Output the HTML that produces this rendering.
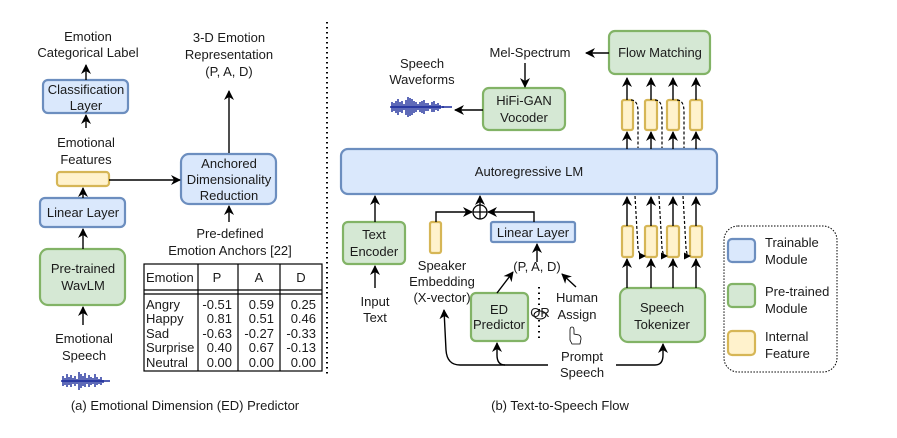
<!DOCTYPE html>
<html><head><meta charset="utf-8"><style>body{margin:0;background:#fff}svg{display:block}text{font-family:"Liberation Sans",sans-serif;font-size:13px;fill:#1a1a1a}</style></head><body>
<svg width="897" height="438" viewBox="0 0 897 438" xmlns="http://www.w3.org/2000/svg">
<defs><marker id="a" markerWidth="10" markerHeight="10" refX="9" refY="5" orient="auto" markerUnits="userSpaceOnUse"><path d="M0,0 L10,5 L0,10 L3,5 z" fill="#000"/></marker></defs>
<g stroke-width="2.2">
<rect x="43" y="80" width="85" height="33" rx="5" fill="#dae8fc" stroke="#6c8ebf"/>
<rect x="40" y="198" width="85" height="29" rx="5" fill="#dae8fc" stroke="#6c8ebf"/>
<rect x="40" y="249" width="85" height="56" rx="8" fill="#d5e8d4" stroke="#82b366"/>
<rect x="57" y="172" width="52" height="14" rx="3" fill="#fff2cc" stroke="#d6b656"/>
<rect x="181" y="154" width="95" height="50" rx="8" fill="#dae8fc" stroke="#6c8ebf"/>
</g>
<g stroke="#000" stroke-width="1.4" fill="none" marker-end="url(#a)">
<line x1="86" y1="80" x2="86" y2="65"/>
<line x1="86" y1="128" x2="86" y2="115"/>
<line x1="83" y1="198" x2="83" y2="188"/>
<line x1="83" y1="249" x2="83" y2="229"/>
<line x1="83" y1="325" x2="83" y2="307"/>
<line x1="109" y1="180" x2="180" y2="180"/>
<line x1="229" y1="153" x2="229" y2="91"/>
<line x1="229" y1="222" x2="229" y2="206"/>
</g>
<g text-anchor="middle">
<text x="88" y="41">Emotion</text><text x="88" y="57">Categorical Label</text>
<text x="86" y="94">Classification</text><text x="86" y="110">Layer</text>
<text x="86" y="147">Emotional</text><text x="86" y="164">Features</text>
<text x="83" y="217">Linear Layer</text>
<text x="83" y="273">Pre-trained</text><text x="83" y="290">WavLM</text>
<text x="84" y="343">Emotional</text><text x="84" y="360">Speech</text>
<text x="229" y="168">Anchored</text><text x="229" y="184">Dimensionality</text><text x="229" y="200">Reduction</text>
<text x="229" y="42">3-D Emotion</text><text x="229" y="59">Representation</text><text x="229" y="76">(P, A, D)</text>
<text x="230" y="238">Pre-defined</text><text x="230" y="255">Emotion Anchors [22]</text>
</g>
<g stroke="#1a2a9a" stroke-width="1.4">
<path d="M61,381 L110,381 M63,376v10 M65,378v7 M67,374v13 M69,377v8 M71,375v12 M73,378v6 M75,376v10 M77,379v5 M79,372v18 M81,374v14 M83,376v10 M85,373v14 M87,378v6 M89,375v12 M91,377v8 M93,378v6 M95,374v13 M97,377v8 M99,379v5 M101,377v8 M103,380v3"/>
</g>
<g stroke="#000" stroke-width="1.2" fill="none">
<rect x="144" y="264" width="178" height="107"/>
<line x1="198" y1="264" x2="198" y2="371"/><line x1="238" y1="264" x2="238" y2="371"/><line x1="280" y1="264" x2="280" y2="371"/>
<line x1="144" y1="290" x2="322" y2="290"/><line x1="144" y1="294" x2="322" y2="294"/>
</g>
<g font-size="12.5">
<text x="146" y="282">Emotion</text><text x="217" y="282" text-anchor="middle">P</text><text x="259" y="282" text-anchor="middle">A</text><text x="301" y="282" text-anchor="middle">D</text>
<text x="146" y="309">Angry</text><text x="146" y="323">Happy</text><text x="146" y="338">Sad</text><text x="146" y="352">Surprise</text><text x="146" y="367">Neutral</text>
</g>
<g text-anchor="end" font-size="12.5">
<text x="232" y="309">-0.51</text><text x="232" y="323">0.81</text><text x="232" y="338">-0.63</text><text x="232" y="352">0.40</text><text x="232" y="367">0.00</text>
<text x="274" y="309">0.59</text><text x="274" y="323">0.51</text><text x="274" y="338">-0.27</text><text x="274" y="352">0.67</text><text x="274" y="367">0.00</text>
<text x="316" y="309">0.25</text><text x="316" y="323">0.46</text><text x="316" y="338">-0.33</text><text x="316" y="352">-0.13</text><text x="316" y="367">0.00</text>
</g>
<text x="185" y="410" text-anchor="middle" font-size="14.5">(a) Emotional Dimension (ED) Predictor</text>
<line x1="327" y1="22" x2="327" y2="375" stroke="#000" stroke-width="2" stroke-dasharray="1.5,3.5"/>
<g stroke-width="2.2">
<rect x="609" y="31" width="101" height="43" rx="6" fill="#d5e8d4" stroke="#82b366"/>
<rect x="483" y="88" width="82" height="42" rx="6" fill="#d5e8d4" stroke="#82b366"/>
<rect x="341" y="149" width="376" height="45" rx="7" fill="#dae8fc" stroke="#6c8ebf"/>
<rect x="343" y="222" width="62" height="42" rx="5" fill="#d5e8d4" stroke="#82b366"/>
<rect x="491" y="222" width="84" height="20" rx="2" fill="#dae8fc" stroke="#6c8ebf"/>
<rect x="471" y="293" width="57" height="48" rx="5" fill="#d5e8d4" stroke="#82b366"/>
<rect x="620" y="288" width="85" height="54" rx="8" fill="#d5e8d4" stroke="#82b366"/>
<rect x="430" y="222" width="11" height="31" rx="2" fill="#fff2cc" stroke="#d6b656"/>
<g fill="#fff2cc" stroke="#d6b656">
<rect x="622" y="100" width="11" height="30" rx="2"/><rect x="645" y="100" width="12" height="30" rx="2"/><rect x="667" y="100" width="12" height="30" rx="2"/><rect x="690" y="100" width="12" height="30" rx="2"/>
<rect x="622" y="226" width="11" height="31" rx="2"/><rect x="645" y="226" width="12" height="31" rx="2"/><rect x="667" y="226" width="12" height="31" rx="2"/><rect x="690" y="226" width="12" height="31" rx="2"/>
</g>
</g>
<g stroke="#000" stroke-width="1.4" fill="none" marker-end="url(#a)">
<line x1="609" y1="53" x2="586" y2="53"/>
<line x1="525" y1="63" x2="525" y2="87"/>
<line x1="483" y1="110" x2="455" y2="110"/>
<line x1="627" y1="100" x2="627" y2="78"/><line x1="651" y1="100" x2="651" y2="78"/><line x1="673" y1="100" x2="673" y2="78"/><line x1="696" y1="100" x2="696" y2="78"/>
<line x1="627" y1="149" x2="627" y2="132"/><line x1="651" y1="149" x2="651" y2="132"/><line x1="673" y1="149" x2="673" y2="132"/><line x1="696" y1="149" x2="696" y2="132"/>
<line x1="627" y1="226" x2="627" y2="197"/><line x1="651" y1="226" x2="651" y2="197"/><line x1="673" y1="226" x2="673" y2="197"/><line x1="696" y1="226" x2="696" y2="197"/>
<line x1="627" y1="288" x2="627" y2="259"/><line x1="651" y1="288" x2="651" y2="259"/><line x1="673" y1="288" x2="673" y2="259"/><line x1="696" y1="288" x2="696" y2="259"/>
<line x1="375" y1="222" x2="375" y2="196"/>
<line x1="375" y1="288" x2="375" y2="266"/>
<path d="M436,222 V212 H472"/>
<path d="M534,222 V212 H488"/>
<line x1="480" y1="205" x2="480" y2="196"/>
<line x1="537" y1="262" x2="537" y2="244"/>
<line x1="497" y1="293" x2="513" y2="272"/>
<line x1="576" y1="287" x2="562" y2="274"/>
<path d="M548,365 H460 Q447,365 446,350 L444,310"/>
<path d="M505,365 Q497,365 497,355 L497,343"/>
<path d="M616,365 H655 Q663,365 663,355 L663,344"/>
</g>
<g stroke="#000" stroke-width="1.2" fill="none" stroke-dasharray="3,2">
<path d="M631,100 Q638,100 638,112 L638,148"/><path d="M655,100 Q662,100 662,112 L662,148"/><path d="M677,100 Q684,100 684,112 L684,148"/>
<path d="M635,196 L638,248 Q639,256 644,256"/><path d="M659,196 L662,248 Q663,256 666,256"/><path d="M683,196 L686,248 Q687,256 689,256"/>
</g>
<g fill="#000"><path d="M646,256 l-7,-3.5 v7z"/><path d="M668,256 l-7,-3.5 v7z"/><path d="M691,256 l-7,-3.5 v7z"/></g>
<circle cx="480" cy="212" r="7" fill="#fff" stroke="#000" stroke-width="1.3"/>
<path d="M473,212 H487 M480,205 V219" stroke="#000" stroke-width="1.3"/>
<line x1="539" y1="287" x2="539" y2="342" stroke="#000" stroke-width="2" stroke-dasharray="1.5,4"/>
<ellipse cx="540" cy="315" rx="6" ry="4" fill="#fff" stroke="#000"/><text x="540" y="317" font-size="4" text-anchor="middle">OR</text>
<path d="M570,340 v-10 q0,-3 2,-3 q2,0 2,3 v4 l5,1 q2,1 2,4 l-1,5 h-8 z" fill="#fff" stroke="#000" stroke-width="0.8"/>
<g stroke="#1a2a9a" stroke-width="1.4"><path d="M390,107 L452,107 M392,102v10 M394,103v8 M396,101v12 M398,99v16 M400,102v10 M402,101v12 M404,104v6 M406,100v15 M408,97v20 M410,98v18 M412,99v16 M414,101v12 M416,102v10 M418,104v6 M420,102v10 M422,101v12 M424,100v14 M426,103v8 M428,103v8 M430,105v4 M432,102v10 M434,101v11 M436,104v6 M438,103v8 M440,105v4 M443,106v2"/></g>
<g text-anchor="middle">
<text x="530" y="57">Mel-Spectrum</text>
<text x="660" y="57">Flow Matching</text>
<text x="524" y="105">HiFi-GAN</text><text x="524" y="122">Vocoder</text>
<text x="422" y="68">Speech</text><text x="422" y="84">Waveforms</text>
<text x="529" y="176">Autoregressive LM</text>
<text x="374" y="239">Text</text><text x="374" y="256">Encoder</text>
<text x="533" y="237">Linear Layer</text>
<text x="375" y="306">Input</text><text x="375" y="322">Text</text>
<text x="442" y="270">Speaker</text><text x="442" y="286">Embedding</text><text x="442" y="302">(X-vector)</text>
<text x="537" y="271">(P, A, D)</text>
<text x="499" y="314">ED</text><text x="499" y="329">Predictor</text>
<text x="577" y="302">Human</text><text x="577" y="319">Assign</text>
<text x="582" y="361">Prompt</text><text x="582" y="377">Speech</text>
<text x="662" y="312">Speech</text><text x="662" y="329">Tokenizer</text>
<text x="560" y="410" font-size="14.5">(b) Text-to-Speech Flow</text>
</g>
<rect x="724" y="226" width="113" height="146" rx="14" fill="none" stroke="#000" stroke-width="1" stroke-dasharray="1.5,1.5"/>
<g stroke-width="2.2">
<rect x="728" y="239" width="27" height="23" rx="4" fill="#dae8fc" stroke="#6c8ebf"/>
<rect x="728" y="284" width="27" height="23" rx="4" fill="#d5e8d4" stroke="#82b366"/>
<rect x="728" y="331" width="27" height="24" rx="4" fill="#fff2cc" stroke="#d6b656"/>
</g>
<text x="765" y="247">Trainable</text><text x="765" y="264">Module</text>
<text x="765" y="296">Pre-trained</text><text x="765" y="313">Module</text>
<text x="765" y="341">Internal</text><text x="765" y="358">Feature</text>
</svg>
</body></html>
